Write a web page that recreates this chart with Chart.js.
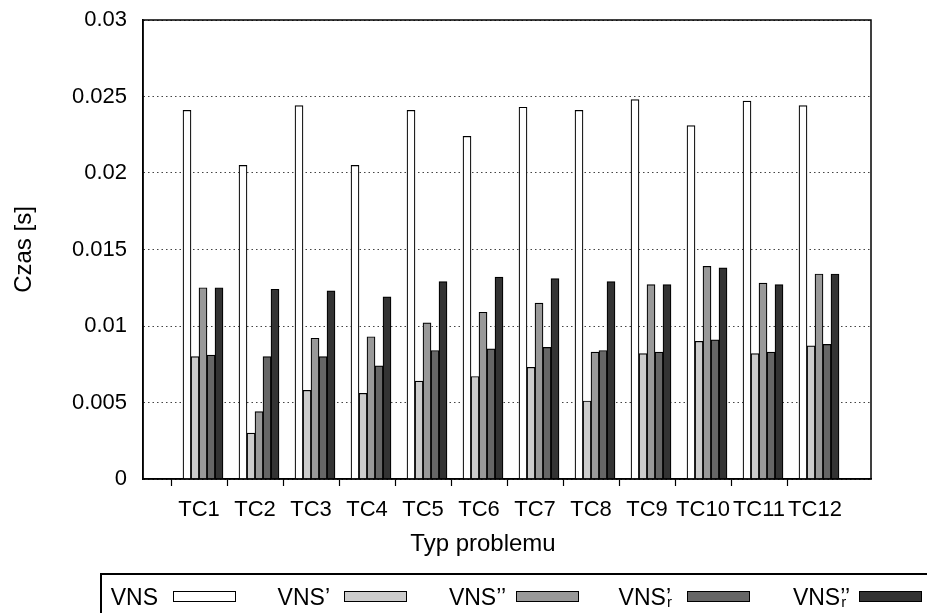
<!DOCTYPE html>
<html>
<head>
<meta charset="utf-8">
<script src="https://cdn.jsdelivr.net/npm/chart.js@4"></script>
<style>
    html, body { margin: 0; padding: 0; background: #fff; }
    body { width: 927px; height: 613px; position: relative; overflow: hidden; font-family: 'Liberation Sans', Arial, sans-serif; color: #000; }
    #chart-box { position: absolute; left: 0; top: 0; width: 927px; height: 613px; }
    #x-title { position: absolute; left: 383px; top: 530px; width: 200px; text-align: center; font-size: 24px; line-height: 26px; white-space: nowrap; }
    #legend-frame { position: absolute; left: 100px; top: 573px; width: 900px; height: 60px; border-top: 2px solid #000; border-left: 2px solid #000; }
    .key-label { position: absolute; top: 585px; width: 200px; text-align: right; font-size: 23px; line-height: 24px; white-space: nowrap; }
    .key-label .st { position: relative; }
    .key-label .sb { position: absolute; left: 1px; top: 10px; font-size: 15px; line-height: 15px; }
    .key-swatch { position: absolute; top: 591px; width: 61px; height: 9px; border: 1px solid #000; }
</style>
</head>
<body>
<div id="chart-box"><canvas id="time-chart"></canvas></div>
<div id="x-title">Typ problemu</div>
<div id="legend-frame"></div>
<script>
const categories = ['TC1', 'TC2', 'TC3', 'TC4', 'TC5', 'TC6', 'TC7', 'TC8', 'TC9', 'TC10', 'TC11', 'TC12'];
const vns    = [0.0241, 0.0205, 0.0244, 0.0205, 0.0241, 0.0224, 0.0243, 0.0241, 0.0248, 0.0231, 0.0247, 0.0244];
const vnsP   = [0.0080, 0.0030, 0.0058, 0.0056, 0.0064, 0.0067, 0.0073, 0.0051, 0.0082, 0.0090, 0.0082, 0.0087];
const vnsPP  = [0.0125, 0.0044, 0.0092, 0.0093, 0.0102, 0.0109, 0.0115, 0.0083, 0.0127, 0.0139, 0.0128, 0.0134];
const vnsRP  = [0.0081, 0.0080, 0.0080, 0.0074, 0.0084, 0.0085, 0.0086, 0.0084, 0.0083, 0.0091, 0.0083, 0.0088];
const vnsRPP = [0.0125, 0.0124, 0.0123, 0.0119, 0.0129, 0.0132, 0.0131, 0.0129, 0.0127, 0.0138, 0.0127, 0.0134];
const seriesNames = ['VNS', 'VNS\u2019', 'VNS\u2019\u2019', 'VNS', 'VNS'];
const seriesMarks = ['', '', '', '\u2019', '\u2019\u2019'];
const seriesSubs  = ['', '', '', 'r', 'r'];
const seriesColors = ['#ffffff', '#cccccc', '#999999', '#666666', '#333333'];
const yMin = 0;
const yMax = 0.03;
const yStep = 0.005;

document.addEventListener("DOMContentLoaded", () => {
    Chart.defaults.font.family = "'Liberation Sans', Arial, sans-serif";
    Chart.defaults.font.size = 22;
    Chart.defaults.color = '#000';

    // gnuplot leaves one empty slot on each side and shifts the cluster half a bar right
    const labels = ['', ...categories, ''];
    const pad = arr => [null, ...arr, null];
    const values = [vns, vnsP, vnsPP, vnsRP, vnsRPP];

    const datasets = [{ label: '', data: pad(categories.map(() => null)) }];
    values.forEach((vals, i) => {
        datasets.push({
            label: seriesNames[i] + seriesMarks[i] + seriesSubs[i],
            data: pad(vals),
            backgroundColor: seriesColors[i],
            borderColor: '#000',
            borderWidth: 1.2,
            barThickness: 8
        });
    });

    const framePlugin = {
        id: 'frame',
        afterDatasetsDraw(chart) {
            const { ctx, chartArea: a } = chart;
            ctx.save();
            ctx.strokeStyle = '#000';
            ctx.lineWidth = 1.5;
            ctx.strokeRect(a.left, a.top, a.right - a.left, a.bottom - a.top);
            ctx.restore();
        }
    };

    new Chart(document.getElementById('time-chart'), {
        type: 'bar',
        data: { labels: labels, datasets: datasets },
        plugins: [framePlugin],
        options: {
            responsive: true,
            maintainAspectRatio: false,
            animation: false,
            layout: { padding: { left: 0, right: 56, top: 20, bottom: 0 } },
            plugins: { legend: { display: false }, tooltip: { enabled: false } },
            scales: {
                x: {
                    offset: false,
                    afterFit: scale => { scale.height = 134; },
                    grid: {
                        drawOnChartArea: false,
                        drawTicks: true,
                        tickLength: 7,
                        tickWidth: 1.2,
                        tickColor: c => (c.index === 0 || c.index === labels.length - 1) ? 'rgba(0,0,0,0)' : '#000'
                    },
                    border: { display: true, color: '#000', width: 1.5 },
                    ticks: { autoSkip: false, maxRotation: 0, minRotation: 0, padding: 11 }
                },
                y: {
                    min: yMin,
                    max: yMax,
                    afterFit: scale => {
                        scale.width = 143;
                        scale.paddingTop = 0;
                        scale.paddingBottom = 0;
                    },
                    grid: { color: '#444', lineWidth: 1, drawTicks: false },
                    border: { display: true, color: '#000', width: 1.5, dash: [1.5, 3] },
                    ticks: {
                        stepSize: yStep,
                        padding: 16,
                        callback: v => String(Number(v.toFixed(4)))
                    },
                    title: { display: true, text: 'Czas [s]', font: { size: 24 }, padding: { top: 10, bottom: 0 } }
                }
            }
        }
    });

    const labelEnds = [158, 330, 506, 671, 850];
    seriesNames.forEach((name, i) => {
        const swatchX = 173 + i * 171.4;
        const lab = document.createElement('div');
        lab.className = 'key-label';
        lab.style.left = (labelEnds[i] - 200) + 'px';
        lab.textContent = name;
        if (seriesSubs[i]) {
            const st = document.createElement('span');
            st.className = 'st';
            st.textContent = seriesMarks[i];
            const sb = document.createElement('span');
            sb.className = 'sb';
            sb.textContent = seriesSubs[i];
            st.appendChild(sb);
            lab.appendChild(st);
        }
        document.body.appendChild(lab);
        const sw = document.createElement('div');
        sw.className = 'key-swatch';
        sw.style.left = swatchX + 'px';
        sw.style.background = seriesColors[i];
        document.body.appendChild(sw);
    });
});
</script>
</body>
</html>
